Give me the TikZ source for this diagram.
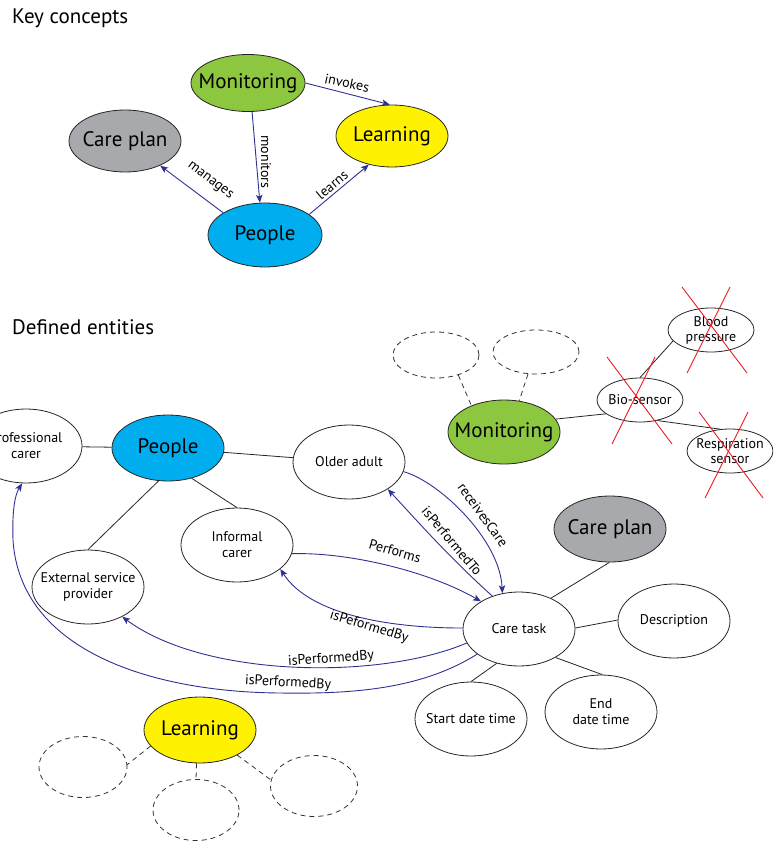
\documentclass[tikz,border=0pt]{standalone}
\usepackage{fontspec}
\setmainfont{PT Sans}
\usetikzlibrary{shapes.geometric,arrows.meta}
\definecolor{navy}{HTML}{2E3192}
\definecolor{mgreen}{HTML}{8DC63F}
\definecolor{myellow}{HTML}{FFF200}
\definecolor{mgray}{HTML}{A7A9AC}
\definecolor{mblue}{HTML}{00AEEF}
\definecolor{xred}{HTML}{ED1C24}
\tikzset{
  big/.style={ellipse, draw=black!85, line width=0.8pt, inner sep=-25pt, font=\fontsize{21}{23}\selectfont},
  ent/.style={ellipse, draw=black!85, line width=0.8pt, fill=white, minimum width=112pt, minimum height=74pt, inner sep=-25pt, align=center, font=\fontsize{14}{16}\selectfont},
  sm/.style={ellipse, draw=black!85, line width=0.8pt, minimum width=86pt, minimum height=44pt, inner sep=-25pt, align=center, font=\fontsize{14}{15}\selectfont},
  ghost/.style={ellipse, draw=black!80, line width=0.8pt, dash pattern=on 5pt off 4pt, inner sep=0pt},
  rel/.style={draw=navy, line width=0.9pt, -{Stealth[length=8pt,width=6.5pt,inset=2pt]}},
  lbl/.style={font=\fontsize{14}{15}\selectfont, inner sep=1pt},
  link/.style={draw=black!85, line width=0.8pt},
  glink/.style={draw=black!80, line width=0.8pt, dash pattern=on 5pt off 4pt},
  cross/.style={draw=xred, line width=0.9pt},
  head/.style={font=\fontsize{21}{24}\selectfont, anchor=west, inner sep=0pt}
}
\begin{document}
\begin{tikzpicture}[x=1pt,y=-1pt]
\useasboundingbox (0,0) rectangle (773,842);
\clip (0,0) rectangle (773,842);

% ---------- Key concepts ----------
\node[head] (h1) at (12,18) {Key concepts};
\node[big, fill=mgreen, minimum width=114pt, minimum height=57pt] (kmon) at (248,83) {Monitoring};
\node[big, fill=myellow, minimum width=112pt, minimum height=62pt] (klea) at (392,136) {Learning};
\node[big, fill=mgray, minimum width=112pt, minimum height=62pt] (kcp) at (125,141) {Care plan};
\node[big, fill=mblue, minimum width=114pt, minimum height=64pt] (kpeo) at (265,235) {People};

\draw[rel] (kmon.-82) -- (kpeo.99);
\draw[rel] (kmon.0) -- (klea.94);
\draw[rel] (kpeo.152) -- (kcp.-35);
\draw[rel] (kpeo.25) -- (klea.-129);
\node[lbl, rotate=-12] (lk1) at (347,83) {invokes};
\node[lbl, rotate=-90] (lk2) at (266,162) {monitors};
\node[lbl, rotate=-37] (lk3) at (210,181) {manages};
\node[lbl, rotate=40] (lk4) at (332,185) {learns};

% ---------- Defined entities ----------
\node[head] (h2) at (12,327) {Defined entities};

\node[big, fill=mgreen, minimum width=112pt, minimum height=64pt] (mon) at (504,432) {Monitoring};
\node[ghost, minimum width=86pt, minimum height=46pt] (g1) at (436,355) {};
\node[ghost, minimum width=86pt, minimum height=44pt] (g2) at (536,352) {};
\node[sm] (bio) at (640,400) {Bio-sensor};
\node[sm] (bp) at (711,330) {Blood\\pressure};
\node[sm] (rs) at (730,451) {Respiration\\sensor};

\draw[glink] (g1.-42) -- (mon.141);
\draw[glink] (g2.-110) -- (mon.64);
\draw[link] (mon.14) -- (bio.-158);
\draw[link] (bio.90) -- (bp.-164);
\draw[link] (bio.-50) -- (rs.114);

\draw[cross] (682,287) -- (747,373);
\draw[cross] (730,287) -- (687,373);
\draw[cross] (607,357) -- (672,444);
\draw[cross] (655,357) -- (612,444);
\draw[cross] (699,412) -- (763,498);
\draw[cross] (748,412) -- (705,498);

\node[ent] (pc) at (26,446) {Professional\\carer};
\node[big, fill=mblue, minimum width=112pt, minimum height=66pt] (peo) at (168,448) {People};
\node[ent] (old) at (349,462) {Older adult};
\node[ent] (inf) at (237,545) {Informal\\carer};
\node[ent] (ext) at (88,587) {External service\\provider};
\node[ent] (ct) at (519,629) {Care task};
\node[big, fill=mgray, minimum width=112pt, minimum height=66pt] (cp) at (610,529) {Care plan};
\node[ent] (desc) at (674,621) {Description};
\node[ent] (sdt) at (471,719) {Start date time};
\node[ent] (edt) at (601,712) {End\\date time};

\draw[link] (pc) -- (peo);
\draw[link] (peo) -- (old);
\draw[link] (peo.-106) -- (ext.90);
\draw[link] (peo.-52) -- (inf.90);
\draw[link] (ct.44) -- (cp.-91);
\draw[link] (ct.1) -- (desc.179);
\draw[link] (ct.-123) -- (sdt.90);
\draw[link] (ct.-38) -- (edt.88);

% relations
\draw[rel] (old.-10) .. controls (440,482) and (500,540) .. (ct.115);
\draw[rel] (ct.129) .. controls (451,559) and (419,523) .. (old.-35);
\draw[rel] (inf.-9) .. controls (350,552) and (430,572) .. (ct.144);
\draw[rel] (ct.179) .. controls (390,628) and (310,615) .. (inf.-29);
\draw[rel] (ct.-165) .. controls (380,680) and (205,678) .. (ext.-41);
\draw[rel] (ct.-149) .. controls (420,690) and (350,694) .. (280,693)
   .. controls (150,692) and (20,650) .. (13,540)
   .. controls (12,510) and (15,495) .. (pc.-96);

\node[lbl, rotate=-54] (l1) at (483,515) {receivesCare};
\node[lbl, rotate=-50] (l2) at (452,541) {isPerformedTo};
\node[lbl, rotate=-16] (l3) at (395,551) {Performs};
\node[lbl, rotate=-17] (l4) at (369,627) {isPeformedBy};
\node[lbl, rotate=4] (l5) at (331,659) {isPerformedBy};
\node[lbl, rotate=-3] (l6) at (288,683) {isPerformedBy};

% ---------- Learning ----------
\node[big, fill=myellow, minimum width=112pt, minimum height=66pt] (lea) at (200,730) {Learning};
\node[ghost, minimum width=88pt, minimum height=61pt] (d1) at (83,767) {};
\node[ghost, minimum width=86pt, minimum height=61pt] (d2) at (196,810) {};
\node[ghost, minimum width=87pt, minimum height=61pt] (d3) at (314,786) {};
\draw[glink] (lea.-162) -- (d1.3);
\draw[glink] (lea.-96) -- (d2.90);
\draw[glink] (lea.-34) -- (d3.172);
\end{tikzpicture}
\end{document}
